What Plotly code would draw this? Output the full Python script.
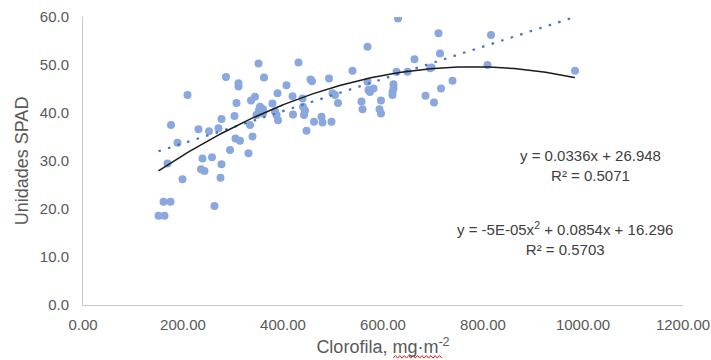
import numpy as np
import plotly.graph_objects as go

# Chlorophyll (mg·m-2) and SPAD readings
clorofila = [151, 163, 161, 175, 169, 176, 189, 199, 209, 263, 231, 252, 271, 277, 303, 307,
             311, 311, 286, 239, 258, 277, 236, 243, 275, 294, 305, 314, 331, 339, 334, 336,
             344, 351, 431, 362, 455, 458, 492, 539, 407, 389, 419, 379, 354, 360, 352, 347,
             360, 384, 387, 390, 439, 440, 444, 420, 442, 499, 504, 510, 462, 477, 479, 497,
             447, 557, 559, 569, 571, 574, 581, 711, 816, 714, 663, 569, 697, 694, 809, 627,
             649, 739, 716, 621, 621, 619, 619, 685, 702, 596, 593, 596, 984, 630]
spad = [18.6, 18.6, 21.5, 21.5, 29.5, 37.5, 33.8, 26.2, 43.75, 20.6, 36.6, 36.2, 36.8, 38.75,
        39.4, 42.1, 46.2, 45.5, 47.5, 30.5, 30.8, 29.3, 28.3, 27.9, 26.5, 32.3, 34.7, 34.2,
        31.6, 35.1, 37.5, 42.6, 43.4, 50.3, 50.5, 47.4, 47.0, 46.6, 47.2, 48.8, 45.8, 44.1,
        43.5, 42.0, 41.3, 40.8, 40.6, 39.6, 39.9, 40.3, 39.6, 38.5, 43.0, 41.3, 40.5, 39.7,
        39.6, 44.1, 43.75, 42.1, 38.2, 39.2, 38.0, 38.2, 36.3, 42.4, 40.8, 46.5, 44.8, 44.4,
        45.1, 56.6, 56.25, 52.4, 51.2, 53.8, 49.5, 49.3, 50.0, 48.6, 48.6, 46.7, 45.1, 46.0,
        45.1, 44.4, 43.75, 43.6, 42.2, 42.6, 40.8, 39.9, 48.8, 59.7]

# Trendline coefficients shown on the chart
lin_coef = [0.0336, 26.948]
quad_coef = [-5.47e-05, 0.0854, 16.296]
eq_lin = ["y = 0.0336x + 26.948", "R² = 0.5071"]
eq_quad = ["y = -5E-05x<sup>2</sup> + 0.0854x + 16.296", "R² = 0.5703"]

x_ticks = [0, 200, 400, 600, 800, 1000, 1200]
y_ticks = [0, 10, 20, 30, 40, 50, 60]

xs = np.linspace(min(clorofila), max(clorofila), 200)
y_lin = np.polyval(lin_coef, xs)
y_quad = np.polyval(quad_coef, xs)

FONT = "Liberation Sans, Arial, sans-serif"
GREY = "#595959"
TXT = "#404040"

fig = go.Figure()
fig.add_trace(go.Scatter(x=clorofila, y=spad, mode="markers",
                         marker=dict(size=8, color="#8aa8de"), showlegend=False))
fig.add_trace(go.Scatter(x=xs, y=y_lin, mode="lines",
                         line=dict(color="#4472c4", width=2.2, dash="2.5px,7.5px"), showlegend=False))
fig.add_trace(go.Scatter(x=xs, y=y_quad, mode="lines",
                         line=dict(color="#1a1a1a", width=1.5), showlegend=False))

# trendline labels (paper coordinates)
fig.add_annotation(x=0.846, y=0.484, xref="paper", yref="paper", text="<br>".join(eq_lin),
                   showarrow=False, font=dict(family=FONT, size=15, color=TXT),
                   xanchor="center", yanchor="middle", align="center")
fig.add_annotation(x=0.803, y=0.232, xref="paper", yref="paper", text="<br>".join(eq_quad),
                   showarrow=False, font=dict(family=FONT, size=15, color=TXT),
                   xanchor="center", yanchor="middle", align="center")

# red spell-check squiggle under "mg·m" in the x title
x0p, x1p, yp = 0.517, 0.598, -0.180
n = 22
pts = []
for i in range(n + 1):
    xx = x0p + (x1p - x0p) * i / n
    yy = yp + (0.0045 if i % 2 else -0.0045)
    pts.append(f"{xx:.4f},{yy:.4f}")
fig.add_shape(type="path", xref="paper", yref="paper", path="M " + " L ".join(pts),
              line=dict(color="#e02020", width=1))

fig.update_layout(
    width=711, height=360,
    margin=dict(l=83, r=28, t=17, b=55, autoexpand=False),
    paper_bgcolor="white", plot_bgcolor="white",
    font=dict(family=FONT, color=GREY),
    xaxis=dict(range=[0, 1200], tickvals=x_ticks, tickformat=".2f", showgrid=False, zeroline=False,
               showline=True, linecolor="#c8c8c8", linewidth=1, ticks="", automargin=False,
               tickfont=dict(size=15, color=GREY), ticklabelstandoff=6,
               title=dict(text="Clorofila, mg·m<sup>-2</sup>", font=dict(size=18, color=GREY), standoff=8)),
    yaxis=dict(range=[0, 60], tickvals=y_ticks, tickformat=".1f", showgrid=False, zeroline=False,
               showline=True, linecolor="#c8c8c8", linewidth=1, ticks="", automargin=False,
               tickfont=dict(size=15, color=GREY), ticklabelstandoff=10,
               title=dict(text="Unidades SPAD", font=dict(size=18, color=GREY), standoff=6)),
)

fig.write_html("out.html")
